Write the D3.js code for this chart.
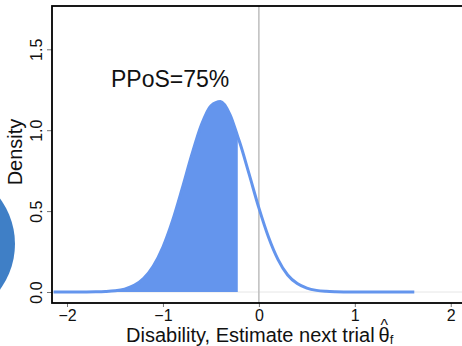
<!DOCTYPE html>
<html>
<head>
<meta charset="utf-8">
<script src="https://cdn.jsdelivr.net/npm/d3@7"></script>
<style>
  body { margin: 0; background: #fff; }
  svg { display: block; font-family: "Liberation Sans", Arial, sans-serif; }
</style>
</head>
<body>
<script>
// density
const xVals = [-2.14, -2.0, -1.9, -1.8, -1.7, -1.6, -1.5, -1.4, -1.3, -1.2, -1.1, -1.0, -0.9, -0.8, -0.7,
  -0.6, -0.5, -0.4, -0.3, -0.22, -0.2, -0.1, 0.0, 0.1, 0.2, 0.3, 0.4, 0.5, 0.6, 0.7, 0.8, 0.9, 1.0, 1.2, 1.4, 1.62];
const density = [0.0, 0.0, 0.0001, 0.0003, 0.001, 0.003, 0.0075, 0.018, 0.041, 0.085, 0.161, 0.278, 0.44, 0.638, 0.847,
  1.032, 1.151, 1.177, 1.095, 0.96, 0.925, 0.725, 0.52, 0.34, 0.2, 0.105, 0.052, 0.024, 0.01, 0.004, 0.0015, 0.0005, 0.0, 0.0, 0.0, 0.0];
const cutoff = -0.22;
const xTicks = [-2, -1, 0, 1, 2];
const yTicks = [0, 0.5, 1.0, 1.5];
const title = 'PPoS=75%';

const W = 462, H = 346;
const box = { left: 52, top: 6, right: 472, bottom: 303 };

const svg = d3.select('body').append('svg')
  .attr('width', W).attr('height', H);

const x = d3.scaleLinear().domain([-2, 2]).range([67, 450.75]);
const y = d3.scaleLinear().domain([0, 1.5]).range([292, 49.3]);

const data = xVals.map((v, i) => ({ x: v, d: density[i] }));

// left decoration circle
svg.append('circle')
  .attr('cx', -61.5).attr('cy', 244).attr('r', 76.5)
  .attr('fill', '#3f7fc6');

// grid line at zero
svg.append('line')
  .attr('x1', box.left).attr('x2', box.right)
  .attr('y1', y(0)).attr('y2', y(0))
  .attr('stroke', '#e6e6e6').attr('stroke-width', 1);

// shaded area
const area = d3.area()
  .x(d => x(d.x)).y0(y(0)).y1(d => y(d.d))
  .curve(d3.curveMonotoneX);
svg.append('path')
  .datum(data.filter(d => d.x <= cutoff))
  .attr('fill', '#6495ED')
  .attr('d', area);

// vertical reference at 0
svg.append('line')
  .attr('x1', x(0)).attr('x2', x(0))
  .attr('y1', box.top).attr('y2', box.bottom)
  .attr('stroke', '#bdbdbd').attr('stroke-width', 1.5);

// density curve
const line = d3.line()
  .x(d => x(d.x)).y(d => y(d.d))
  .curve(d3.curveMonotoneX);
svg.append('path')
  .datum(data)
  .attr('fill', 'none')
  .attr('stroke', '#6495ED')
  .attr('stroke-width', 3)
  .attr('d', line);

// axes
const xAxis = svg.append('g')
  .attr('transform', 'translate(0,' + box.bottom + ')')
  .call(d3.axisBottom(x).tickValues(xTicks).tickSize(4).tickPadding(3).tickFormat(d3.format('d')));
xAxis.select('.domain').remove();
xAxis.selectAll('line').attr('stroke', '#777');
xAxis.selectAll('text').attr('font-size', 16).attr('fill', '#111').attr('font-family', null);

const yAxis = svg.append('g')
  .attr('transform', 'translate(' + box.left + ',0)')
  .call(d3.axisLeft(y).tickValues(yTicks).tickSize(5).tickFormat(d3.format('.1f')));
yAxis.select('.domain').remove();
yAxis.selectAll('line').attr('stroke', '#777');
yAxis.selectAll('text')
  .attr('font-size', 16).attr('fill', '#111').attr('font-family', null)
  .attr('x', null).attr('dy', null)
  .attr('text-anchor', 'middle')
  .attr('transform', 'translate(-10,0) rotate(-90)');

// frame
svg.append('rect')
  .attr('x', box.left).attr('y', box.top)
  .attr('width', box.right - box.left).attr('height', box.bottom - box.top)
  .attr('fill', 'none').attr('stroke', '#000').attr('stroke-width', 1.8);

// labels
svg.append('text')
  .attr('x', 111).attr('y', 87)
  .attr('font-size', 23).attr('fill', '#111')
  .text(title);

svg.append('text')
  .attr('transform', 'translate(22,152) rotate(-90)')
  .attr('text-anchor', 'middle')
  .attr('font-size', 20).attr('fill', '#111')
  .text('Density');

const xl = svg.append('text')
  .attr('x', 126).attr('y', 342)
  .attr('font-size', 20).attr('fill', '#111');
xl.append('tspan').text('Disability, Estimate next trial');
const theta = xl.append('tspan').attr('dx', 4).text('θ');
xl.append('tspan').attr('font-size', 13).attr('dy', 2).text('f');

// hat over theta, centred on the glyph
const tb = theta.node().getExtentOfChar(0);
svg.append('text')
  .attr('x', tb.x + tb.width / 2).attr('y', 331)
  .attr('text-anchor', 'middle')
  .attr('font-size', 16).attr('fill', '#111')
  .text('^');
</script>
</body>
</html>
